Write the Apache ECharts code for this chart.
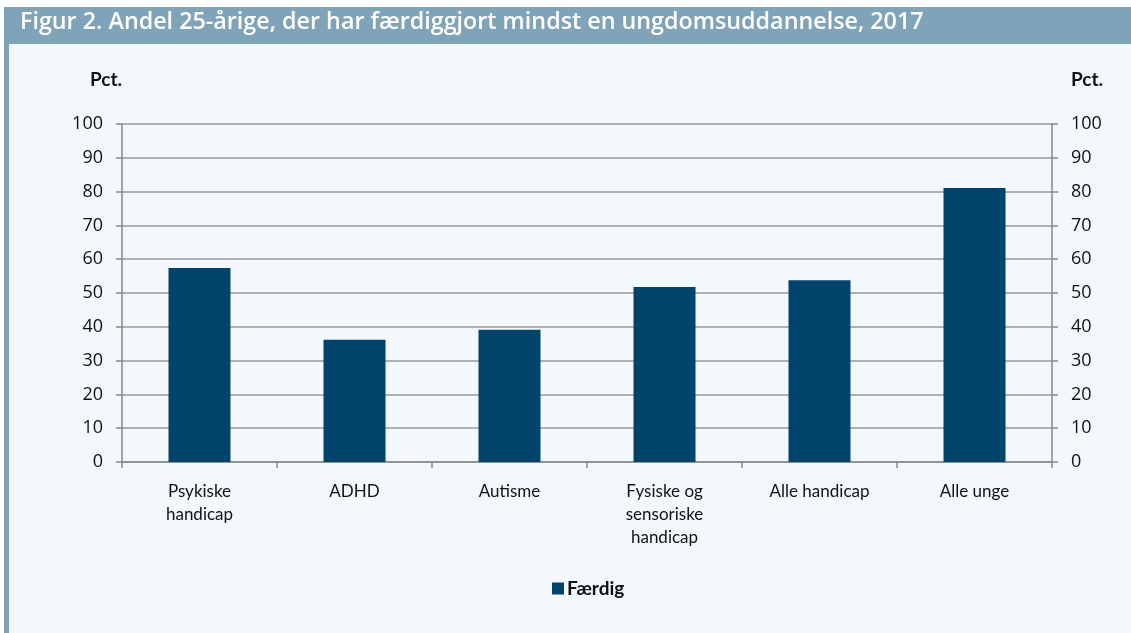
<!DOCTYPE html>
<html><head><meta charset="utf-8">
<script src="https://cdn.jsdelivr.net/npm/echarts@6/dist/echarts.min.js"></script>
<style>html,body{margin:0;padding:0;background:#fff;}#c{width:1131px;height:633px;}</style>
</head><body><div id="c"></div>
<script>
const categories = ['Psykiske\nhandicap', 'ADHD', 'Autisme', 'Fysiske og\nsensoriske\nhandicap', 'Alle handicap', 'Alle unge'];
const faerdig = [57.4, 36.2, 39.1, 51.8, 53.8, 81.1];
const seriesName = 'Færdig';
const titleText = 'Figur 2. Andel 25-årige, der har færdiggjort mindst en ungdomsuddannelse, 2017';
const yUnit = 'Pct.';

const chart = echarts.init(document.getElementById('c'), null, {renderer: 'canvas'});
const font = '"Open Sans", "Noto Sans", sans-serif';
const font2 = 'Lato, "Open Sans", sans-serif';
const axisCommon = {
  type: 'value', min: 0, max: 100, interval: 10,
  axisLine: {show: true, lineStyle: {color: '#888', width: 1.5}},
  axisTick: {show: true, length: 6, lineStyle: {color: '#888', width: 1.5}},
  axisLabel: {color: '#111', fontSize: 18, fontFamily: font, margin: 19, showMinLabel: true, showMaxLabel: true},
  splitLine: {show: false}
};
chart.setOption({
  backgroundColor: '#fff',
  graphic: [
    {type: 'rect', shape: {x: 4, y: 7, width: 1127, height: 626}, style: {fill: '#F3F8FC'}, z: -10},
    {type: 'rect', shape: {x: 4, y: 7, width: 1127, height: 37}, style: {fill: '#7FA3B8'}, z: -9},
    {type: 'rect', shape: {x: 4, y: 44, width: 5, height: 589}, style: {fill: '#7FA3B8'}, z: -9},
    {type: 'text', left: 20, top: 11, style: {text: titleText, fill: '#fff', font: '600 23.3px ' + font}},
    {type: 'text', left: 90, top: 70, style: {text: yUnit, fill: '#111', font: 'bold 19px ' + font2}},
    {type: 'text', left: 1071, top: 70, style: {text: yUnit, fill: '#111', font: 'bold 19px ' + font2}}
  ],
  grid: {left: 122, right: 79, top: 124, bottom: 171, containLabel: false},
  legend: {
    data: [seriesName], bottom: 30, left: 547, itemWidth: 12, itemHeight: 12, itemGap: 4,
    icon: 'rect',
    textStyle: {fontSize: 19, fontWeight: 'bold', color: '#111', fontFamily: font2, padding: [0,0,0,-2]}
  },
  xAxis: {
    type: 'category', data: categories,
    axisLine: {lineStyle: {color: '#888', width: 1.5}},
    axisTick: {show: true, length: 6, lineStyle: {color: '#888', width: 1.5}},
    axisLabel: {color: '#111', fontSize: 17, fontFamily: font2, lineHeight: 23, margin: 18}
  },
  yAxis: [
    Object.assign({}, axisCommon, {position: 'left', splitLine: {show: true, lineStyle: {color: '#999', width: 1.5}}}),
    Object.assign({}, axisCommon, {position: 'right'})
  ],
  series: [{
    name: seriesName, type: 'bar', data: faerdig, barWidth: '40%',
    itemStyle: {color: '#00446B'}
  }]
});
</script></body></html>
